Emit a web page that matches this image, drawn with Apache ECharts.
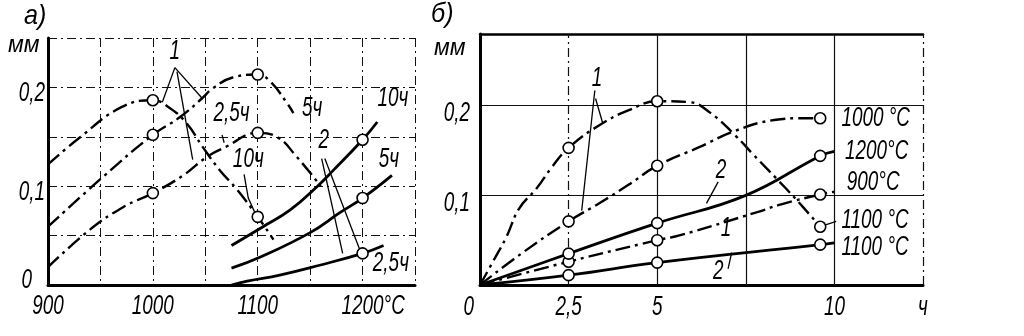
<!DOCTYPE html>
<html>
<head>
<meta charset="utf-8">
<script src="https://cdn.jsdelivr.net/npm/echarts@6/dist/echarts.min.js"></script>
<style>
  html, body { margin: 0; padding: 0; background: #fff; }
  #chart { width: 1024px; height: 336px; }
</style>
</head>
<body>
<div id="chart"></div>
<script>
// ---------- Panel а: layer depth (мм) against temperature (°C) ----------
const tempTicks = [900, 1000, 1100, 1200];
const tempTickLabels = ['900', '1000', '1100', '1200°C'];
const depthTicksA = [0, 0.1, 0.2];
const depthTickLabelsA = ['0', '0,1', '0,2'];

// steel 1 (dash-dot), 2.5 h / 5 h / 10 h
const s1h25T = [900, 940, 972, 1000, 1029, 1052, 1070, 1100, 1118, 1137, 1160];
const s1h25D = [0.018, 0.056, 0.079, 0.093, 0.111, 0.130, 0.140, 0.154, 0.150, 0.130, 0.100];
const s1h5T = [900, 952, 1000, 1026, 1047, 1057, 1076, 1100, 1112, 1128, 1134];
const s1h5D = [0.059, 0.109, 0.152, 0.170, 0.189, 0.199, 0.210, 0.213, 0.206, 0.184, 0.174];
const s1h10T = [900, 930, 970, 1000, 1015, 1032, 1048, 1064, 1080, 1100, 1115];
const s1h10D = [0.122, 0.149, 0.180, 0.187, 0.180, 0.164, 0.139, 0.116, 0.097, 0.069, 0.046];
const s1Measured = [1000, 1100];

// steel 2 (solid), 2.5 h / 5 h / 10 h
const s2h25T = [1075, 1090, 1121, 1159, 1200, 1220];
const s2h25D = [0.000, 0.004, 0.010, 0.020, 0.032, 0.040];
const s2h5T = [1075, 1102, 1150, 1178, 1200, 1228];
const s2h5D = [0.017, 0.028, 0.053, 0.073, 0.088, 0.111];
const s2h10T = [1075, 1105, 1131, 1157, 1172, 1200, 1214];
const s2h10D = [0.040, 0.059, 0.076, 0.100, 0.116, 0.147, 0.165];
const s2Measured = [1200];

// curve captions and leader strokes of panel а (temperature, мм)
const captionsA = [
  ['1', 1021, 0.236], ['2,5ч', 1075, 0.174], ['5ч', 1152, 0.179], ['10ч', 1091, 0.127],
  ['10ч', 1229, 0.189], ['2', 1163, 0.146], ['5ч', 1225, 0.127], ['2,5ч', 1227, 0.022]
];
const leadersA = [
  [[1021, 0.220], [1009, 0.185]],
  [[1021, 0.220], [1047, 0.189]],
  [[1023, 0.216], [1038, 0.127]],
  [[1087, 0.112], [1091, 0.088], [1097, 0.074]],
  [[1066, 0.152], [1068, 0.144]],
  [[1161, 0.128], [1181, 0.032]],
  [[1164, 0.128], [1198, 0.034]]
];

// ---------- Panel б: layer depth (мм) against holding time (ч) ----------
const hourTicks = [0, 2.5, 5, 10, 12.5];
const hourTickLabels = ['0', '2,5', '5', '10', 'ч'];
const hourGrid = [2.5, 5, 7.5, 10, 12.5];
const hourGridDashed = [2.5, 12.5];
const depthTicksB = [0.1, 0.2];
const depthTickLabelsB = ['0,1', '0,2'];

// steel 1 (dash-dot)
const b1100s1H = [0, 0.35, 0.75, 1.1, 1.6, 2.0, 2.5, 3.4, 4.2, 5, 5.9, 6.5, 7.2, 7.7, 8.6, 9.0, 9.6];
const b1100s1D = [0, 0.025, 0.054, 0.085, 0.108, 0.130, 0.153, 0.179, 0.195, 0.205, 0.204, 0.192, 0.167, 0.146, 0.109, 0.092, 0.065];
const b1000H = [0, 1.2, 2.5, 3.4, 4.2, 5, 6.2, 7.2, 8.3, 9.1, 9.6];
const b1000D = [0, 0.036, 0.071, 0.092, 0.112, 0.133, 0.154, 0.172, 0.184, 0.186, 0.186];
const b900H = [0, 2.5, 5, 5.6, 7.8, 8.5, 9.6, 10];
const b900D = [0, 0.026, 0.050, 0.055, 0.081, 0.090, 0.101, 0.104];
// steel 2 (solid)
const b1200H = [0, 2.5, 5, 7.5, 9.6, 10];
const b1200D = [0, 0.035, 0.069, 0.100, 0.144, 0.149];
const b1100s2H = [0, 2.5, 5, 9.6, 10];
const b1100s2D = [0, 0.011, 0.025, 0.045, 0.047];
const bMeasured = [2.5, 5, 9.6];

const captionsB = [['1', 3.3, 0.23], ['2', 6.8, 0.128], ['1', 6.94, 0.0625], ['2', 6.72, 0.0156]];
const endCaptionsB = [
  ['1000 °C', 10.2, 0.186], ['1200°C', 10.3, 0.149], ['900°C', 10.35, 0.114],
  ['1100 °C', 10.2, 0.072], ['1100 °C', 10.2, 0.042]
];
const leadersB = [
  [[3.24, 0.217], [2.87, 0.083]],
  [[3.26, 0.208], [3.46, 0.181]],
  [[6.72, 0.115], [6.39, 0.091]],
  [[7.0, 0.018], [7.1, 0.036]],
  [[9.75, 0.067], [10.05, 0.071]]
];

// ---------- styling ----------
const FONT = "'Liberation Sans', Arial, sans-serif";
const TEXT_FONT = 'italic 27px ' + FONT;
const TEXT_SX = 0.7;               // narrow drafting-style lettering
const INK = '#000';
const DASHDOT = [15, 5, 3, 5];

const measureCtx = document.createElement('canvas').getContext('2d');
function textWidth(s, font) { measureCtx.font = font; return measureCtx.measureText(s).width * TEXT_SX; }

function zip(xs, ys) { return xs.map((x, i) => [x, ys[i]]); }
function pick(xs, ys, at) { return at.map(x => [x, ys[xs.indexOf(x)]]); }

function curve(xs, ys, g, dashed) {
  return {
    type: 'line', xAxisIndex: g, yAxisIndex: g, data: zip(xs, ys),
    smooth: 0.45, showSymbol: false, silent: true, z: 3,
    lineStyle: { color: INK, width: dashed ? 2.4 : 2.8, type: dashed ? DASHDOT : 'solid', cap: 'butt', opacity: 1 }
  };
}
function points(list, g) {
  return {
    type: 'scatter', xAxisIndex: g, yAxisIndex: g, data: list, symbol: 'circle', symbolSize: 11, z: 6,
    silent: true, itemStyle: { color: '#fff', borderColor: INK, borderWidth: 1.6, opacity: 1 }
  };
}
function leaders(list, g) {
  return {
    type: 'lines', coordinateSystem: 'cartesian2d', xAxisIndex: g, yAxisIndex: g, polyline: true,
    silent: true, z: 4, lineStyle: { color: INK, width: 1.3, opacity: 1, curveness: 0 },
    data: list.map(c => ({ coords: c }))
  };
}
// Lettering placed through the axes: each item is [text, x, y]; place(text) gives
// the pixel nudge and anchor relative to that data point.
function lettering(items, g, place) {
  return {
    type: 'custom', xAxisIndex: g, yAxisIndex: g, coordinateSystem: 'cartesian2d',
    clip: false, silent: true, z: 8,
    data: items.map(c => [c[1], c[2]]),
    renderItem: (params, api) => {
      const p = api.coord([api.value(0), api.value(1)]);
      const s = items[params.dataIndex][0];
      const o = place(s, params.dataIndex);
      return {
        type: 'text', x: p[0] + (o.dx || 0), y: p[1] + (o.dy || 0), scaleX: TEXT_SX,
        style: { text: s, font: TEXT_FONT, fill: INK, align: o.align || 'center', verticalAlign: 'middle' }
      };
    }
  };
}

const chart = echarts.init(document.getElementById('chart'), null, { renderer: 'canvas' });

const hiddenLabel = { show: false };
const option = {
  backgroundColor: '#fff',
  animation: false,
  grid: [
    { left: 48, top: 38, width: 367, height: 247 },
    { left: 480, top: 34, width: 443, height: 251 }
  ],
  xAxis: [
    {
      type: 'value', gridIndex: 0, min: 900, max: 1250, interval: 50,
      axisLine: { show: true, onZero: false, lineStyle: { color: INK, width: 3 } },
      axisTick: { show: false }, axisLabel: hiddenLabel,
      splitLine: { show: true, lineStyle: { color: '#111', width: 1, type: [9, 4, 2, 4] } }
    },
    {
      type: 'value', gridIndex: 1, min: 0, max: 12.5, interval: 2.5,
      axisLine: { show: true, onZero: false, lineStyle: { color: INK, width: 3 } },
      axisTick: { show: false }, axisLabel: hiddenLabel, splitLine: { show: false }
    },
    {
      type: 'value', gridIndex: 1, position: 'top', min: 0, max: 12.5,
      axisLine: { show: true, onZero: false, lineStyle: { color: INK, width: 2.5 } },
      axisTick: { show: false }, axisLabel: hiddenLabel, splitLine: { show: false }
    }
  ],
  yAxis: [
    {
      type: 'value', gridIndex: 0, min: 0, max: 0.25, interval: 0.05,
      axisLine: { show: true, onZero: false, lineStyle: { color: INK, width: 3 } },
      axisTick: { show: false }, axisLabel: hiddenLabel,
      splitLine: { show: true, lineStyle: { color: '#111', width: 1, type: [9, 4, 2, 4] } }
    },
    {
      type: 'value', gridIndex: 1, min: 0, max: 0.28, interval: 0.1,
      axisLine: { show: true, onZero: false, lineStyle: { color: INK, width: 3 } },
      axisTick: { show: false }, axisLabel: hiddenLabel,
      splitLine: { show: true, lineStyle: { color: '#111', width: 1.2, type: 'solid' } }
    }
  ],
  graphic: [
    { type: 'text', left: 24, top: 2, scaleX: 0.9, style: { text: 'а)', font: 'italic 28px ' + FONT, fill: INK } },
    { type: 'text', left: 8, top: 34, style: { text: 'мм', font: 'italic 23px ' + FONT, fill: INK } },
    { type: 'text', left: 431, top: 0, scaleX: 0.9, style: { text: 'б)', font: 'italic 28px ' + FONT, fill: INK } },
    { type: 'text', left: 434, top: 37, style: { text: 'мм', font: 'italic 23px ' + FONT, fill: INK } }
  ],
  series: [
    // panel а
    curve(s1h25T, s1h25D, 0, true),
    curve(s1h5T, s1h5D, 0, true),
    curve(s1h10T, s1h10D, 0, true),
    curve(s2h25T, s2h25D, 0, false),
    curve(s2h5T, s2h5D, 0, false),
    curve(s2h10T, s2h10D, 0, false),
    points([].concat(
      pick(s1h25T, s1h25D, s1Measured), pick(s1h5T, s1h5D, s1Measured), pick(s1h10T, s1h10D, s1Measured),
      pick(s2h25T, s2h25D, s2Measured), pick(s2h5T, s2h5D, s2Measured), pick(s2h10T, s2h10D, s2Measured)
    ), 0),
    leaders(leadersA, 0),
    lettering(captionsA, 0, () => ({})),
    // tick lettering of panel а
    lettering(tempTickLabels.map((s, i) => [s, tempTicks[i], 0]), 0, s => {
      const k = s.indexOf('°');
      return k > 0 ? { align: 'left', dx: -textWidth(s.slice(0, k), TEXT_FONT) / 2, dy: 21 } : { dy: 21 };
    }),
    lettering(depthTickLabelsA.map((s, i) => [s, 0 + 900, depthTicksA[i]]), 0,
      (s, i) => depthTicksA[i] === 0 ? { align: 'right', dx: -16, dy: -5 } : { align: 'right', dx: -3, dy: 6 }),
    // panel б
    Object.assign(curve(b1100s1H, b1100s1D, 1, true), {
      markLine: {
        silent: true, symbol: ['none', 'none'], label: { show: false }, animation: false,
        data: hourGrid.map(v => ({
          xAxis: v,
          lineStyle: { color: '#111', width: 1.2, type: hourGridDashed.indexOf(v) >= 0 ? [9, 4, 2, 4] : 'solid' }
        }))
      }
    }),
    curve(b1000H, b1000D, 1, true),
    curve(b900H, b900D, 1, true),
    curve(b1200H, b1200D, 1, false),
    curve(b1100s2H, b1100s2D, 1, false),
    points([].concat(
      pick(b1100s1H, b1100s1D, bMeasured), pick(b1000H, b1000D, bMeasured), pick(b900H, b900D, bMeasured),
      pick(b1200H, b1200D, bMeasured), pick(b1100s2H, b1100s2D, bMeasured)
    ), 1),
    leaders(leadersB, 1),
    lettering(captionsB, 1, () => ({})),
    lettering(endCaptionsB, 1, () => ({ align: 'left' })),
    // tick lettering of panel б
    lettering(hourTickLabels.map((s, i) => [s, hourTicks[i], 0]), 1,
      (s, i) => hourTicks[i] === 0 ? { align: 'right', dx: -6, dy: 22 } : { dy: 22 }),
    lettering(depthTickLabelsB.map((s, i) => [s, 0, depthTicksB[i]]), 1, () => ({ align: 'right', dx: -10, dy: 8 }))
  ]
};
chart.setOption(option);
</script>
</body>
</html>
